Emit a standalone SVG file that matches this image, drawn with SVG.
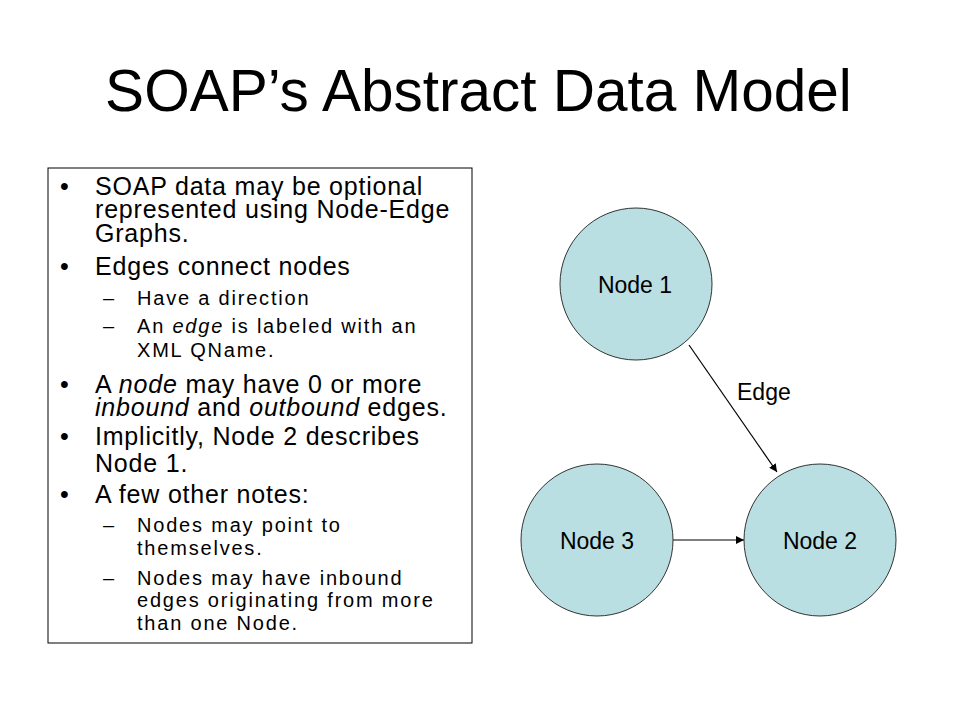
<svg xmlns="http://www.w3.org/2000/svg" width="960" height="720" viewBox="0 0 960 720">
<defs>
<style>
text{font-family:"Liberation Sans",Arial,sans-serif;fill:#000}
.title{font-size:58.5px}
.b{font-size:25px;letter-spacing:0.8px}
.s{font-size:20px;letter-spacing:1.8px}
.lbl{font-size:23px}
.node{fill:#b9dfe3;stroke:#333;stroke-width:1}
.edge{stroke:#000;stroke-width:1.2;fill:none;marker-end:url(#ah)}
</style>
<marker id="ah" viewBox="0 0 10 10" refX="10" refY="5" markerWidth="8" markerHeight="8" markerUnits="userSpaceOnUse" orient="auto">
<path d="M0,0 L10,5 L0,10 z" fill="#000"/>
</marker>
</defs>
<rect width="960" height="720" fill="#fff"/>
<text class="title" x="478.5" y="111" text-anchor="middle">SOAP’s Abstract Data Model</text>
<g id="textbox">
<rect x="48" y="168" width="424" height="475" fill="#fff" stroke="#000" stroke-width="1"/>
<g class="b">
<text x="60" y="195">•</text>
<text x="95" y="195">SOAP data may be optional</text>
<text x="95" y="218">represented using Node-Edge</text>
<text x="95" y="242">Graphs.</text>
<text x="60" y="275">•</text>
<text x="95" y="275">Edges connect nodes</text>
<text x="60" y="393">•</text>
<text x="95" y="393">A <tspan font-style="italic">node</tspan> may have 0 or more</text>
<text x="95" y="416"><tspan font-style="italic">inbound</tspan> and <tspan font-style="italic">outbound</tspan> edges.</text>
<text x="60" y="445">•</text>
<text x="95" y="445">Implicitly, Node 2 describes</text>
<text x="95" y="472">Node 1.</text>
<text x="60" y="503">•</text>
<text x="95" y="503">A few other notes:</text>
</g>
<g class="s">
<text x="103" y="305">–</text>
<text x="137" y="305">Have a direction</text>
<text x="103" y="333">–</text>
<text x="137" y="333">An <tspan font-style="italic">edge</tspan> is labeled with an</text>
<text x="137" y="357">XML QName.</text>
<text x="103" y="532">–</text>
<text x="137" y="532">Nodes may point to</text>
<text x="137" y="555">themselves.</text>
<text x="103" y="585">–</text>
<text x="137" y="585">Nodes may have inbound</text>
<text x="137" y="607">edges originating from more</text>
<text x="137" y="630">than one Node.</text>
</g>
</g>
<g id="connectors">
<line class="edge" x1="689" y1="345" x2="777" y2="472"/>
<line class="edge" x1="672" y1="540" x2="744" y2="540"/>
<text class="lbl" x="737" y="400">Edge</text>
</g>
<g id="node1">
<circle class="node" cx="636" cy="284" r="76"/>
<text class="lbl" x="635" y="293" text-anchor="middle">Node 1</text>
</g>
<g id="node3">
<circle class="node" cx="597" cy="540" r="76"/>
<text class="lbl" x="597" y="549" text-anchor="middle">Node 3</text>
</g>
<g id="node2">
<circle class="node" cx="820" cy="540" r="76"/>
<text class="lbl" x="820" y="549" text-anchor="middle">Node 2</text>
</g>
</svg>
